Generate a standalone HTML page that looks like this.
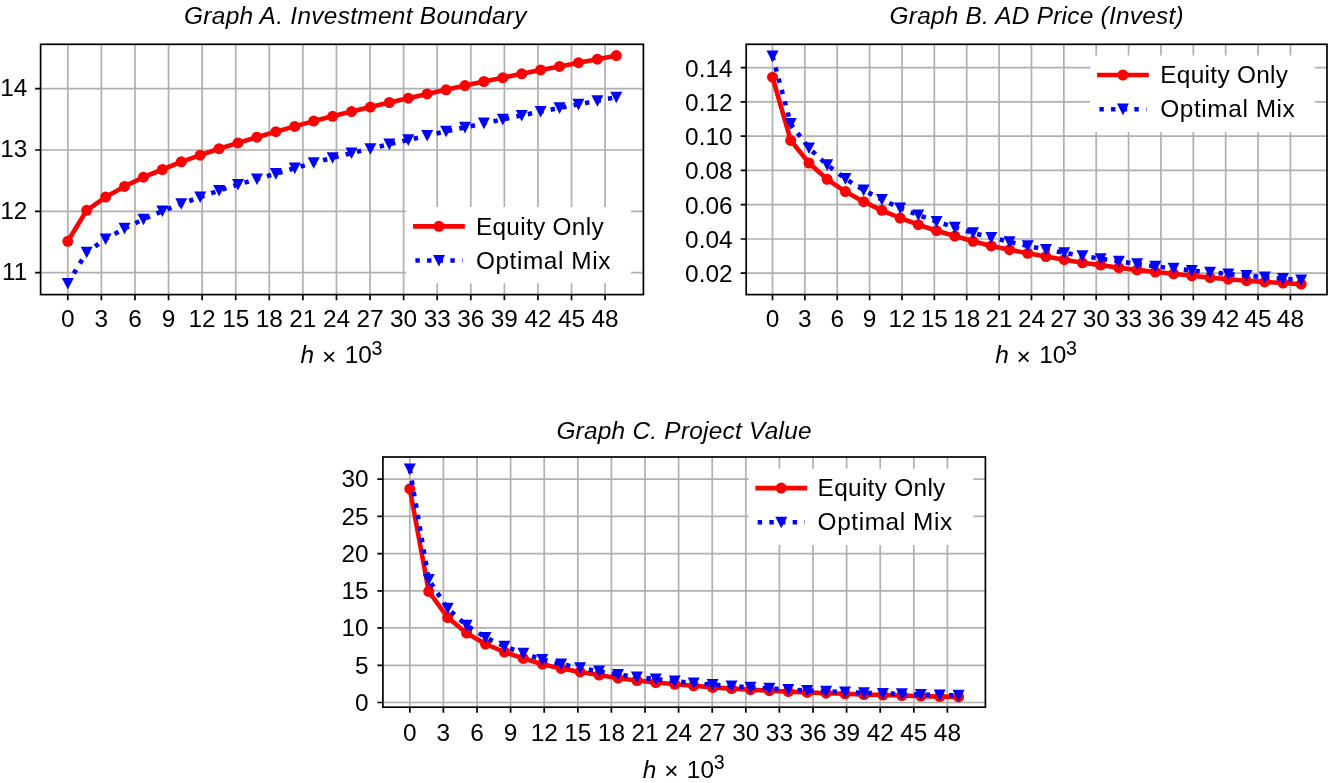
<!DOCTYPE html>
<html lang="en">
<head>
<meta charset="utf-8">
<title>Graphs A-C</title>
<style>
html,body{margin:0;padding:0;background:#fff;}
body{width:1329px;height:783px;overflow:hidden;}
svg{display:block;font-family:"Liberation Sans", sans-serif;fill:#000;}
</style>
</head>
<body>
<svg width="1329" height="783" viewBox="0 0 1329 783">
<rect width="1329" height="783" fill="#fff"/>
<g id="ax1">
<rect x="40.6" y="44.3" width="602.8" height="250.3" fill="#fff"/>
<path d="M67.8 44.3V294.6M101.38 44.3V294.6M134.96 44.3V294.6M168.55 44.3V294.6M202.13 44.3V294.6M235.71 44.3V294.6M269.29 44.3V294.6M302.87 44.3V294.6M336.46 44.3V294.6M370.04 44.3V294.6M403.62 44.3V294.6M437.2 44.3V294.6M470.78 44.3V294.6M504.37 44.3V294.6M537.95 44.3V294.6M571.53 44.3V294.6M605.11 44.3V294.6M40.6 88.7H643.4M40.6 150H643.4M40.6 211.3H643.4M40.6 272.6H643.4" stroke="#b0b0b0" stroke-width="1.7" fill="none"/>
<clipPath id="cp1"><rect x="40.6" y="44.3" width="602.8" height="250.3"/></clipPath>
<g clip-path="url(#cp1)">
<polyline points="67.8,241.3 86.71,210.3 105.63,197.1 124.54,186.4 143.46,177.2 162.37,169.5 181.28,161.8 200.2,155.2 219.11,148.7 238.03,142.9 256.94,137.2 275.85,131.7 294.77,126.4 313.68,121.1 332.6,116.3 351.51,111.6 370.42,107.1 389.34,102.5 408.25,98.2 427.17,93.9 446.08,89.8 464.99,85.6 483.91,81.5 502.82,77.7 521.74,73.8 540.65,69.9 559.56,66.4 578.48,62.7 597.39,59.2 616.31,55.6" fill="none" stroke="#f00" stroke-width="4.6" stroke-linejoin="round" stroke-linecap="square"/>
<circle cx="67.8" cy="241.3" r="5.5" fill="#f00"/>
<circle cx="86.71" cy="210.3" r="5.5" fill="#f00"/>
<circle cx="105.63" cy="197.1" r="5.5" fill="#f00"/>
<circle cx="124.54" cy="186.4" r="5.5" fill="#f00"/>
<circle cx="143.46" cy="177.2" r="5.5" fill="#f00"/>
<circle cx="162.37" cy="169.5" r="5.5" fill="#f00"/>
<circle cx="181.28" cy="161.8" r="5.5" fill="#f00"/>
<circle cx="200.2" cy="155.2" r="5.5" fill="#f00"/>
<circle cx="219.11" cy="148.7" r="5.5" fill="#f00"/>
<circle cx="238.03" cy="142.9" r="5.5" fill="#f00"/>
<circle cx="256.94" cy="137.2" r="5.5" fill="#f00"/>
<circle cx="275.85" cy="131.7" r="5.5" fill="#f00"/>
<circle cx="294.77" cy="126.4" r="5.5" fill="#f00"/>
<circle cx="313.68" cy="121.1" r="5.5" fill="#f00"/>
<circle cx="332.6" cy="116.3" r="5.5" fill="#f00"/>
<circle cx="351.51" cy="111.6" r="5.5" fill="#f00"/>
<circle cx="370.42" cy="107.1" r="5.5" fill="#f00"/>
<circle cx="389.34" cy="102.5" r="5.5" fill="#f00"/>
<circle cx="408.25" cy="98.2" r="5.5" fill="#f00"/>
<circle cx="427.17" cy="93.9" r="5.5" fill="#f00"/>
<circle cx="446.08" cy="89.8" r="5.5" fill="#f00"/>
<circle cx="464.99" cy="85.6" r="5.5" fill="#f00"/>
<circle cx="483.91" cy="81.5" r="5.5" fill="#f00"/>
<circle cx="502.82" cy="77.7" r="5.5" fill="#f00"/>
<circle cx="521.74" cy="73.8" r="5.5" fill="#f00"/>
<circle cx="540.65" cy="69.9" r="5.5" fill="#f00"/>
<circle cx="559.56" cy="66.4" r="5.5" fill="#f00"/>
<circle cx="578.48" cy="62.7" r="5.5" fill="#f00"/>
<circle cx="597.39" cy="59.2" r="5.5" fill="#f00"/>
<circle cx="616.31" cy="55.6" r="5.5" fill="#f00"/>
<polyline points="67.8,283.5 86.71,252.3 105.63,239 124.54,228.4 143.46,219.3 162.37,211 181.28,203.8 200.2,197.1 219.11,190.5 238.03,184.5 256.94,179.1 275.85,173.7 294.77,168.2 313.68,162.8 332.6,157.8 351.51,153 370.42,148.8 389.34,144.2 408.25,139.9 427.17,135.6 446.08,131.3 464.99,127.4 483.91,123.2 502.82,119.4 521.74,115.5 540.65,111.6 559.56,107.9 578.48,104.4 597.39,100.8 616.31,97.3" fill="none" stroke="#00f" stroke-width="4.6" stroke-dasharray="4.4 7.26" stroke-linejoin="round"/>
<path d="M61.8 277.9H73.8L67.8 289.5Z" fill="#00f"/>
<path d="M80.71 246.7H92.71L86.71 258.3Z" fill="#00f"/>
<path d="M99.63 233.4H111.63L105.63 245Z" fill="#00f"/>
<path d="M118.54 222.8H130.54L124.54 234.4Z" fill="#00f"/>
<path d="M137.46 213.7H149.46L143.46 225.3Z" fill="#00f"/>
<path d="M156.37 205.4H168.37L162.37 217Z" fill="#00f"/>
<path d="M175.28 198.2H187.28L181.28 209.8Z" fill="#00f"/>
<path d="M194.2 191.5H206.2L200.2 203.1Z" fill="#00f"/>
<path d="M213.11 184.9H225.11L219.11 196.5Z" fill="#00f"/>
<path d="M232.03 178.9H244.03L238.03 190.5Z" fill="#00f"/>
<path d="M250.94 173.5H262.94L256.94 185.1Z" fill="#00f"/>
<path d="M269.85 168.1H281.85L275.85 179.7Z" fill="#00f"/>
<path d="M288.77 162.6H300.77L294.77 174.2Z" fill="#00f"/>
<path d="M307.68 157.2H319.68L313.68 168.8Z" fill="#00f"/>
<path d="M326.6 152.2H338.6L332.6 163.8Z" fill="#00f"/>
<path d="M345.51 147.4H357.51L351.51 159Z" fill="#00f"/>
<path d="M364.42 143.2H376.42L370.42 154.8Z" fill="#00f"/>
<path d="M383.34 138.6H395.34L389.34 150.2Z" fill="#00f"/>
<path d="M402.25 134.3H414.25L408.25 145.9Z" fill="#00f"/>
<path d="M421.17 130H433.17L427.17 141.6Z" fill="#00f"/>
<path d="M440.08 125.7H452.08L446.08 137.3Z" fill="#00f"/>
<path d="M458.99 121.8H470.99L464.99 133.4Z" fill="#00f"/>
<path d="M477.91 117.6H489.91L483.91 129.2Z" fill="#00f"/>
<path d="M496.82 113.8H508.82L502.82 125.4Z" fill="#00f"/>
<path d="M515.74 109.9H527.74L521.74 121.5Z" fill="#00f"/>
<path d="M534.65 106H546.65L540.65 117.6Z" fill="#00f"/>
<path d="M553.56 102.3H565.56L559.56 113.9Z" fill="#00f"/>
<path d="M572.48 98.8H584.48L578.48 110.4Z" fill="#00f"/>
<path d="M591.39 95.2H603.39L597.39 106.8Z" fill="#00f"/>
<path d="M610.31 91.7H622.31L616.31 103.3Z" fill="#00f"/>
</g>
<rect x="406.3" y="206.9" width="224.8" height="76.3" rx="3" fill="#fff"/>
<path d="M415.4 226.3H462.5" stroke="#f00" stroke-width="4.7" stroke-linecap="square"/>
<circle cx="438.95" cy="226.3" r="5.5" fill="#f00"/>
<path d="M415.4 260.5H462.5" stroke="#00f" stroke-width="4.6" stroke-dasharray="4.4 7.26"/>
<path d="M432.95 254.9H444.95L438.95 266.5Z" fill="#00f"/>
<text x="475.9" y="234.9" font-size="24.4" textLength="127.7">Equity Only</text>
<text x="475.9" y="269.1" font-size="24.4" textLength="134.5">Optimal Mix</text>
<rect x="40.6" y="44.3" width="602.8" height="250.3" fill="none" stroke="#000" stroke-width="1.7"/>
<path d="M67.8 294.6v5.55M101.38 294.6v5.55M134.96 294.6v5.55M168.55 294.6v5.55M202.13 294.6v5.55M235.71 294.6v5.55M269.29 294.6v5.55M302.87 294.6v5.55M336.46 294.6v5.55M370.04 294.6v5.55M403.62 294.6v5.55M437.2 294.6v5.55M470.78 294.6v5.55M504.37 294.6v5.55M537.95 294.6v5.55M571.53 294.6v5.55M605.11 294.6v5.55M40.6 88.7h-5.55M40.6 150h-5.55M40.6 211.3h-5.55M40.6 272.6h-5.55" stroke="#000" stroke-width="1.7" fill="none"/>
<g font-size="24.4" text-anchor="middle">
<text x="67.8" y="327">0</text>
<text x="101.38" y="327">3</text>
<text x="134.96" y="327">6</text>
<text x="168.55" y="327">9</text>
<text x="202.13" y="327">12</text>
<text x="235.71" y="327">15</text>
<text x="269.29" y="327">18</text>
<text x="302.87" y="327">21</text>
<text x="336.46" y="327">24</text>
<text x="370.04" y="327">27</text>
<text x="403.62" y="327">30</text>
<text x="437.2" y="327">33</text>
<text x="470.78" y="327">36</text>
<text x="504.37" y="327">39</text>
<text x="537.95" y="327">42</text>
<text x="571.53" y="327">45</text>
<text x="605.11" y="327">48</text>
</g>
<g font-size="24.4" text-anchor="end">
<text x="27.4" y="95.9">14</text>
<text x="27.4" y="157.2">13</text>
<text x="27.4" y="218.5">12</text>
<text x="27.4" y="279.8">11</text>
</g>
<text x="355.4" y="23.9" font-size="24.4" font-style="italic" text-anchor="middle" letter-spacing="0.31">Graph A. Investment Boundary</text>
<text x="300.6" y="363" font-size="24.4" font-style="italic">h</text>
<text x="322" y="364.5" font-size="24.4">×</text>
<text x="344.7" y="363" font-size="24.4">10</text>
<text x="371.5" y="354.6" font-size="19.6">3</text>
</g>
<g id="ax2">
<rect x="746.2" y="44.3" width="580.8" height="250.3" fill="#fff"/>
<path d="M772.5 44.3V294.6M804.87 44.3V294.6M837.24 44.3V294.6M869.61 44.3V294.6M901.98 44.3V294.6M934.35 44.3V294.6M966.72 44.3V294.6M999.09 44.3V294.6M1031.46 44.3V294.6M1063.83 44.3V294.6M1096.2 44.3V294.6M1128.57 44.3V294.6M1160.94 44.3V294.6M1193.31 44.3V294.6M1225.68 44.3V294.6M1258.05 44.3V294.6M1290.42 44.3V294.6M746.2 67.7H1327M746.2 101.9H1327M746.2 136.1H1327M746.2 170.3H1327M746.2 204.6H1327M746.2 239H1327M746.2 273.2H1327" stroke="#b0b0b0" stroke-width="1.7" fill="none"/>
<clipPath id="cp2"><rect x="746.2" y="44.3" width="580.8" height="250.3"/></clipPath>
<g clip-path="url(#cp2)">
<polyline points="772.5,77.2 790.73,140.4 808.96,163 827.19,179.3 845.43,191.6 863.66,201.7 881.89,210.3 900.12,218 918.35,224.7 936.58,230.7 954.81,236 973.05,241.3 991.28,245.9 1009.51,249.7 1027.74,253.3 1045.97,256.6 1064.2,259.7 1082.43,262.8 1100.66,265.1 1118.9,267.7 1137.13,269.9 1155.36,272 1173.59,273.8 1191.82,275.8 1210.05,277.6 1228.28,279.2 1246.52,280.7 1264.75,281.9 1282.98,283 1301.21,284.2" fill="none" stroke="#f00" stroke-width="4.6" stroke-linejoin="round" stroke-linecap="square"/>
<circle cx="772.5" cy="77.2" r="5.5" fill="#f00"/>
<circle cx="790.73" cy="140.4" r="5.5" fill="#f00"/>
<circle cx="808.96" cy="163" r="5.5" fill="#f00"/>
<circle cx="827.19" cy="179.3" r="5.5" fill="#f00"/>
<circle cx="845.43" cy="191.6" r="5.5" fill="#f00"/>
<circle cx="863.66" cy="201.7" r="5.5" fill="#f00"/>
<circle cx="881.89" cy="210.3" r="5.5" fill="#f00"/>
<circle cx="900.12" cy="218" r="5.5" fill="#f00"/>
<circle cx="918.35" cy="224.7" r="5.5" fill="#f00"/>
<circle cx="936.58" cy="230.7" r="5.5" fill="#f00"/>
<circle cx="954.81" cy="236" r="5.5" fill="#f00"/>
<circle cx="973.05" cy="241.3" r="5.5" fill="#f00"/>
<circle cx="991.28" cy="245.9" r="5.5" fill="#f00"/>
<circle cx="1009.51" cy="249.7" r="5.5" fill="#f00"/>
<circle cx="1027.74" cy="253.3" r="5.5" fill="#f00"/>
<circle cx="1045.97" cy="256.6" r="5.5" fill="#f00"/>
<circle cx="1064.2" cy="259.7" r="5.5" fill="#f00"/>
<circle cx="1082.43" cy="262.8" r="5.5" fill="#f00"/>
<circle cx="1100.66" cy="265.1" r="5.5" fill="#f00"/>
<circle cx="1118.9" cy="267.7" r="5.5" fill="#f00"/>
<circle cx="1137.13" cy="269.9" r="5.5" fill="#f00"/>
<circle cx="1155.36" cy="272" r="5.5" fill="#f00"/>
<circle cx="1173.59" cy="273.8" r="5.5" fill="#f00"/>
<circle cx="1191.82" cy="275.8" r="5.5" fill="#f00"/>
<circle cx="1210.05" cy="277.6" r="5.5" fill="#f00"/>
<circle cx="1228.28" cy="279.2" r="5.5" fill="#f00"/>
<circle cx="1246.52" cy="280.7" r="5.5" fill="#f00"/>
<circle cx="1264.75" cy="281.9" r="5.5" fill="#f00"/>
<circle cx="1282.98" cy="283" r="5.5" fill="#f00"/>
<circle cx="1301.21" cy="284.2" r="5.5" fill="#f00"/>
<polyline points="772.5,56.2 790.73,123.7 808.96,148.1 827.19,164.9 845.43,178.7 863.66,190.2 881.89,199.6 900.12,208 918.35,215.1 936.58,221.5 954.81,227.4 973.05,232.9 991.28,237.6 1009.51,241.9 1027.74,245.9 1045.97,249.6 1064.2,252.8 1082.43,255.9 1100.66,258.8 1118.9,261.4 1137.13,263.9 1155.36,266.4 1173.59,268.4 1191.82,270.6 1210.05,272.3 1228.28,274.1 1246.52,275.6 1264.75,277.2 1282.98,278.7 1301.21,280.2" fill="none" stroke="#00f" stroke-width="4.6" stroke-dasharray="4.4 7.26" stroke-linejoin="round"/>
<path d="M766.5 50.6H778.5L772.5 62.2Z" fill="#00f"/>
<path d="M784.73 118.1H796.73L790.73 129.7Z" fill="#00f"/>
<path d="M802.96 142.5H814.96L808.96 154.1Z" fill="#00f"/>
<path d="M821.19 159.3H833.19L827.19 170.9Z" fill="#00f"/>
<path d="M839.43 173.1H851.43L845.43 184.7Z" fill="#00f"/>
<path d="M857.66 184.6H869.66L863.66 196.2Z" fill="#00f"/>
<path d="M875.89 194H887.89L881.89 205.6Z" fill="#00f"/>
<path d="M894.12 202.4H906.12L900.12 214Z" fill="#00f"/>
<path d="M912.35 209.5H924.35L918.35 221.1Z" fill="#00f"/>
<path d="M930.58 215.9H942.58L936.58 227.5Z" fill="#00f"/>
<path d="M948.81 221.8H960.81L954.81 233.4Z" fill="#00f"/>
<path d="M967.05 227.3H979.05L973.05 238.9Z" fill="#00f"/>
<path d="M985.28 232H997.28L991.28 243.6Z" fill="#00f"/>
<path d="M1003.51 236.3H1015.51L1009.51 247.9Z" fill="#00f"/>
<path d="M1021.74 240.3H1033.74L1027.74 251.9Z" fill="#00f"/>
<path d="M1039.97 244H1051.97L1045.97 255.6Z" fill="#00f"/>
<path d="M1058.2 247.2H1070.2L1064.2 258.8Z" fill="#00f"/>
<path d="M1076.43 250.3H1088.43L1082.43 261.9Z" fill="#00f"/>
<path d="M1094.66 253.2H1106.66L1100.66 264.8Z" fill="#00f"/>
<path d="M1112.9 255.8H1124.9L1118.9 267.4Z" fill="#00f"/>
<path d="M1131.13 258.3H1143.13L1137.13 269.9Z" fill="#00f"/>
<path d="M1149.36 260.8H1161.36L1155.36 272.4Z" fill="#00f"/>
<path d="M1167.59 262.8H1179.59L1173.59 274.4Z" fill="#00f"/>
<path d="M1185.82 265H1197.82L1191.82 276.6Z" fill="#00f"/>
<path d="M1204.05 266.7H1216.05L1210.05 278.3Z" fill="#00f"/>
<path d="M1222.28 268.5H1234.28L1228.28 280.1Z" fill="#00f"/>
<path d="M1240.52 270H1252.52L1246.52 281.6Z" fill="#00f"/>
<path d="M1258.75 271.6H1270.75L1264.75 283.2Z" fill="#00f"/>
<path d="M1276.98 273.1H1288.98L1282.98 284.7Z" fill="#00f"/>
<path d="M1295.21 274.6H1307.21L1301.21 286.2Z" fill="#00f"/>
</g>
<rect x="1090.3" y="55.6" width="224.8" height="76.3" rx="3" fill="#fff"/>
<path d="M1099.4 75H1146.5" stroke="#f00" stroke-width="4.7" stroke-linecap="square"/>
<circle cx="1122.95" cy="75" r="5.5" fill="#f00"/>
<path d="M1099.4 109.2H1146.5" stroke="#00f" stroke-width="4.6" stroke-dasharray="4.4 7.26"/>
<path d="M1116.95 103.6H1128.95L1122.95 115.2Z" fill="#00f"/>
<text x="1160.3" y="82.9" font-size="24.4" textLength="127.7">Equity Only</text>
<text x="1160.3" y="117.1" font-size="24.4" textLength="134.5">Optimal Mix</text>
<rect x="746.2" y="44.3" width="580.8" height="250.3" fill="none" stroke="#000" stroke-width="1.7"/>
<path d="M772.5 294.6v5.55M804.87 294.6v5.55M837.24 294.6v5.55M869.61 294.6v5.55M901.98 294.6v5.55M934.35 294.6v5.55M966.72 294.6v5.55M999.09 294.6v5.55M1031.46 294.6v5.55M1063.83 294.6v5.55M1096.2 294.6v5.55M1128.57 294.6v5.55M1160.94 294.6v5.55M1193.31 294.6v5.55M1225.68 294.6v5.55M1258.05 294.6v5.55M1290.42 294.6v5.55M746.2 67.7h-5.55M746.2 101.9h-5.55M746.2 136.1h-5.55M746.2 170.3h-5.55M746.2 204.6h-5.55M746.2 239h-5.55M746.2 273.2h-5.55" stroke="#000" stroke-width="1.7" fill="none"/>
<g font-size="24.4" text-anchor="middle">
<text x="772.5" y="327">0</text>
<text x="804.87" y="327">3</text>
<text x="837.24" y="327">6</text>
<text x="869.61" y="327">9</text>
<text x="901.98" y="327">12</text>
<text x="934.35" y="327">15</text>
<text x="966.72" y="327">18</text>
<text x="999.09" y="327">21</text>
<text x="1031.46" y="327">24</text>
<text x="1063.83" y="327">27</text>
<text x="1096.2" y="327">30</text>
<text x="1128.57" y="327">33</text>
<text x="1160.94" y="327">36</text>
<text x="1193.31" y="327">39</text>
<text x="1225.68" y="327">42</text>
<text x="1258.05" y="327">45</text>
<text x="1290.42" y="327">48</text>
</g>
<g font-size="24.4" text-anchor="end">
<text x="732.6" y="76.7">0.14</text>
<text x="732.6" y="110.9">0.12</text>
<text x="732.6" y="145.1">0.10</text>
<text x="732.6" y="179.3">0.08</text>
<text x="732.6" y="213.6">0.06</text>
<text x="732.6" y="248">0.04</text>
<text x="732.6" y="282.2">0.02</text>
</g>
<text x="1036.7" y="23.9" font-size="24.4" font-style="italic" text-anchor="middle" letter-spacing="0.25">Graph B. AD Price (Invest)</text>
<text x="995.2" y="363" font-size="24.4" font-style="italic">h</text>
<text x="1016.6" y="364.5" font-size="24.4">×</text>
<text x="1039.3" y="363" font-size="24.4">10</text>
<text x="1066.1" y="354.6" font-size="19.6">3</text>
</g>
<g id="ax3">
<rect x="382.9" y="457" width="602.5" height="250.2" fill="#fff"/>
<path d="M409.8 457V707.2M443.4 457V707.2M477 457V707.2M510.6 457V707.2M544.2 457V707.2M577.8 457V707.2M611.4 457V707.2M645 457V707.2M678.6 457V707.2M712.2 457V707.2M745.8 457V707.2M779.4 457V707.2M813 457V707.2M846.6 457V707.2M880.2 457V707.2M913.8 457V707.2M947.4 457V707.2M382.9 479.1H985.4M382.9 516.3H985.4M382.9 553.7H985.4M382.9 590.8H985.4M382.9 627.9H985.4M382.9 665.3H985.4M382.9 702.5H985.4" stroke="#b0b0b0" stroke-width="1.7" fill="none"/>
<clipPath id="cp3"><rect x="382.9" y="457" width="602.5" height="250.2"/></clipPath>
<g clip-path="url(#cp3)">
<polyline points="409.8,488.8 428.72,591.4 447.65,617.5 466.57,633.1 485.5,644 504.42,652 523.34,658.4 542.27,664.2 561.19,668.4 580.12,671.9 599.04,675 617.97,678.2 636.89,680.5 655.81,682.5 674.74,684.3 693.66,685.8 712.59,687.4 731.51,688.6 750.43,689.7 769.36,690.7 788.28,691.6 807.21,692.4 826.13,693.2 845.06,693.8 863.98,694.6 882.9,695 901.83,695.5 920.75,696.1 939.68,696.6 958.6,696.9" fill="none" stroke="#f00" stroke-width="4.6" stroke-linejoin="round" stroke-linecap="square"/>
<circle cx="409.8" cy="488.8" r="5.5" fill="#f00"/>
<circle cx="428.72" cy="591.4" r="5.5" fill="#f00"/>
<circle cx="447.65" cy="617.5" r="5.5" fill="#f00"/>
<circle cx="466.57" cy="633.1" r="5.5" fill="#f00"/>
<circle cx="485.5" cy="644" r="5.5" fill="#f00"/>
<circle cx="504.42" cy="652" r="5.5" fill="#f00"/>
<circle cx="523.34" cy="658.4" r="5.5" fill="#f00"/>
<circle cx="542.27" cy="664.2" r="5.5" fill="#f00"/>
<circle cx="561.19" cy="668.4" r="5.5" fill="#f00"/>
<circle cx="580.12" cy="671.9" r="5.5" fill="#f00"/>
<circle cx="599.04" cy="675" r="5.5" fill="#f00"/>
<circle cx="617.97" cy="678.2" r="5.5" fill="#f00"/>
<circle cx="636.89" cy="680.5" r="5.5" fill="#f00"/>
<circle cx="655.81" cy="682.5" r="5.5" fill="#f00"/>
<circle cx="674.74" cy="684.3" r="5.5" fill="#f00"/>
<circle cx="693.66" cy="685.8" r="5.5" fill="#f00"/>
<circle cx="712.59" cy="687.4" r="5.5" fill="#f00"/>
<circle cx="731.51" cy="688.6" r="5.5" fill="#f00"/>
<circle cx="750.43" cy="689.7" r="5.5" fill="#f00"/>
<circle cx="769.36" cy="690.7" r="5.5" fill="#f00"/>
<circle cx="788.28" cy="691.6" r="5.5" fill="#f00"/>
<circle cx="807.21" cy="692.4" r="5.5" fill="#f00"/>
<circle cx="826.13" cy="693.2" r="5.5" fill="#f00"/>
<circle cx="845.06" cy="693.8" r="5.5" fill="#f00"/>
<circle cx="863.98" cy="694.6" r="5.5" fill="#f00"/>
<circle cx="882.9" cy="695" r="5.5" fill="#f00"/>
<circle cx="901.83" cy="695.5" r="5.5" fill="#f00"/>
<circle cx="920.75" cy="696.1" r="5.5" fill="#f00"/>
<circle cx="939.68" cy="696.6" r="5.5" fill="#f00"/>
<circle cx="958.6" cy="696.9" r="5.5" fill="#f00"/>
<polyline points="409.8,469 428.72,579.6 447.65,608.4 466.57,625.4 485.5,637.5 504.42,646.4 523.34,653.3 542.27,659.6 561.19,664.1 580.12,667.9 599.04,671.2 617.97,674.6 636.89,677.1 655.81,679.2 674.74,681.2 693.66,683.1 712.59,684.6 731.51,686.1 750.43,687.4 769.36,688.4 788.28,689.5 807.21,690.6 826.13,691.3 845.06,692.1 863.98,692.9 882.9,693.5 901.83,693.9 920.75,694.6 939.68,695 958.6,695.4" fill="none" stroke="#00f" stroke-width="4.6" stroke-dasharray="4.4 7.26" stroke-linejoin="round"/>
<path d="M403.8 463.4H415.8L409.8 475Z" fill="#00f"/>
<path d="M422.72 574H434.72L428.72 585.6Z" fill="#00f"/>
<path d="M441.65 602.8H453.65L447.65 614.4Z" fill="#00f"/>
<path d="M460.57 619.8H472.57L466.57 631.4Z" fill="#00f"/>
<path d="M479.5 631.9H491.5L485.5 643.5Z" fill="#00f"/>
<path d="M498.42 640.8H510.42L504.42 652.4Z" fill="#00f"/>
<path d="M517.34 647.7H529.34L523.34 659.3Z" fill="#00f"/>
<path d="M536.27 654H548.27L542.27 665.6Z" fill="#00f"/>
<path d="M555.19 658.5H567.19L561.19 670.1Z" fill="#00f"/>
<path d="M574.12 662.3H586.12L580.12 673.9Z" fill="#00f"/>
<path d="M593.04 665.6H605.04L599.04 677.2Z" fill="#00f"/>
<path d="M611.97 669H623.97L617.97 680.6Z" fill="#00f"/>
<path d="M630.89 671.5H642.89L636.89 683.1Z" fill="#00f"/>
<path d="M649.81 673.6H661.81L655.81 685.2Z" fill="#00f"/>
<path d="M668.74 675.6H680.74L674.74 687.2Z" fill="#00f"/>
<path d="M687.66 677.5H699.66L693.66 689.1Z" fill="#00f"/>
<path d="M706.59 679H718.59L712.59 690.6Z" fill="#00f"/>
<path d="M725.51 680.5H737.51L731.51 692.1Z" fill="#00f"/>
<path d="M744.43 681.8H756.43L750.43 693.4Z" fill="#00f"/>
<path d="M763.36 682.8H775.36L769.36 694.4Z" fill="#00f"/>
<path d="M782.28 683.9H794.28L788.28 695.5Z" fill="#00f"/>
<path d="M801.21 685H813.21L807.21 696.6Z" fill="#00f"/>
<path d="M820.13 685.7H832.13L826.13 697.3Z" fill="#00f"/>
<path d="M839.06 686.5H851.06L845.06 698.1Z" fill="#00f"/>
<path d="M857.98 687.3H869.98L863.98 698.9Z" fill="#00f"/>
<path d="M876.9 687.9H888.9L882.9 699.5Z" fill="#00f"/>
<path d="M895.83 688.3H907.83L901.83 699.9Z" fill="#00f"/>
<path d="M914.75 689H926.75L920.75 700.6Z" fill="#00f"/>
<path d="M933.68 689.4H945.68L939.68 701Z" fill="#00f"/>
<path d="M952.6 689.8H964.6L958.6 701.4Z" fill="#00f"/>
</g>
<rect x="748.6" y="468.7" width="224.8" height="76.3" rx="3" fill="#fff"/>
<path d="M757.7 488.1H804.8" stroke="#f00" stroke-width="4.7" stroke-linecap="square"/>
<circle cx="781.25" cy="488.1" r="5.5" fill="#f00"/>
<path d="M757.7 522.3H804.8" stroke="#00f" stroke-width="4.6" stroke-dasharray="4.4 7.26"/>
<path d="M775.25 516.7H787.25L781.25 528.3Z" fill="#00f"/>
<text x="817.6" y="496.2" font-size="24.4" textLength="127.7">Equity Only</text>
<text x="817.6" y="530.4" font-size="24.4" textLength="134.5">Optimal Mix</text>
<rect x="382.9" y="457" width="602.5" height="250.2" fill="none" stroke="#000" stroke-width="1.7"/>
<path d="M409.8 707.2v5.55M443.4 707.2v5.55M477 707.2v5.55M510.6 707.2v5.55M544.2 707.2v5.55M577.8 707.2v5.55M611.4 707.2v5.55M645 707.2v5.55M678.6 707.2v5.55M712.2 707.2v5.55M745.8 707.2v5.55M779.4 707.2v5.55M813 707.2v5.55M846.6 707.2v5.55M880.2 707.2v5.55M913.8 707.2v5.55M947.4 707.2v5.55M382.9 479.1h-5.55M382.9 516.3h-5.55M382.9 553.7h-5.55M382.9 590.8h-5.55M382.9 627.9h-5.55M382.9 665.3h-5.55M382.9 702.5h-5.55" stroke="#000" stroke-width="1.7" fill="none"/>
<g font-size="24.4" text-anchor="middle">
<text x="409.8" y="741.2">0</text>
<text x="443.4" y="741.2">3</text>
<text x="477" y="741.2">6</text>
<text x="510.6" y="741.2">9</text>
<text x="544.2" y="741.2">12</text>
<text x="577.8" y="741.2">15</text>
<text x="611.4" y="741.2">18</text>
<text x="645" y="741.2">21</text>
<text x="678.6" y="741.2">24</text>
<text x="712.2" y="741.2">27</text>
<text x="745.8" y="741.2">30</text>
<text x="779.4" y="741.2">33</text>
<text x="813" y="741.2">36</text>
<text x="846.6" y="741.2">39</text>
<text x="880.2" y="741.2">42</text>
<text x="913.8" y="741.2">45</text>
<text x="947.4" y="741.2">48</text>
</g>
<g font-size="24.4" text-anchor="end">
<text x="368.6" y="487.4">30</text>
<text x="368.6" y="524.6">25</text>
<text x="368.6" y="562">20</text>
<text x="368.6" y="599.1">15</text>
<text x="368.6" y="636.2">10</text>
<text x="368.6" y="673.6">5</text>
<text x="368.6" y="710.8">0</text>
</g>
<text x="684.1" y="438.9" font-size="24.4" font-style="italic" text-anchor="middle" letter-spacing="0.25">Graph C. Project Value</text>
<text x="642.75" y="777.6" font-size="24.4" font-style="italic">h</text>
<text x="664.15" y="779.1" font-size="24.4">×</text>
<text x="686.85" y="777.6" font-size="24.4">10</text>
<text x="713.65" y="769.2" font-size="19.6">3</text>
</g>
</svg>
</body>
</html>
